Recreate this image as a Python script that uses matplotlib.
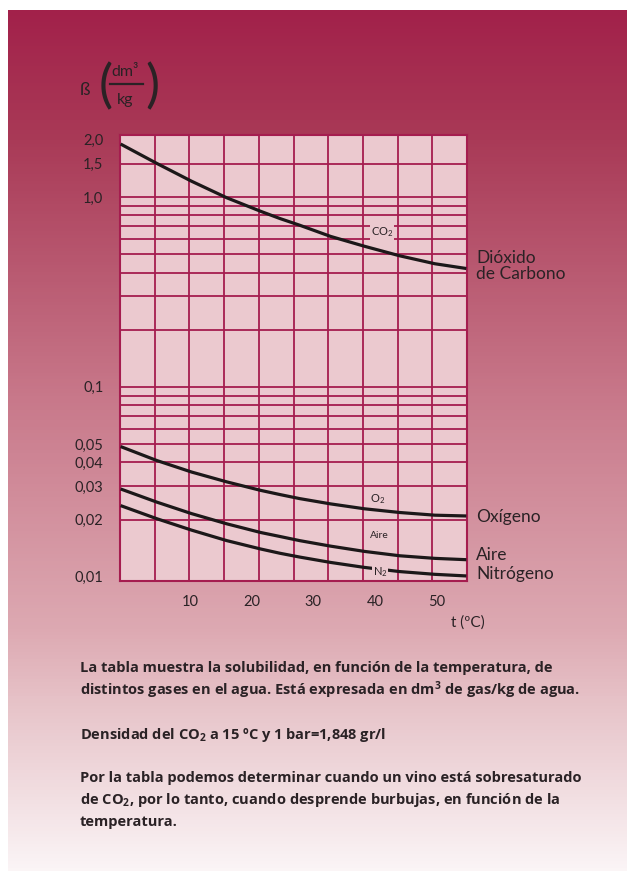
import numpy as np
import matplotlib
matplotlib.use('Agg')
from matplotlib import pyplot as plt
from matplotlib.colors import LinearSegmentedColormap
from matplotlib.lines import Line2D
from matplotlib import transforms

plt.rcParams['font.family'] = ['Lato', 'DejaVu Sans']
plt.rcParams['mathtext.default'] = 'regular'

# temperatura (ºC) y solubilidad (dm3/kg)
temps = [-1.2, 4.7, 10.3, 16.0, 21.5, 24.6, 27.8, 32.8, 38.3, 44.0, 49.7, 54.8]
co2 = [1.90, 1.50, 1.21, 0.99, 0.84, 0.77, 0.71, 0.62, 0.55, 0.49, 0.445, 0.42]
o2 = [0.0485, 0.0409, 0.0356, 0.0316, 0.0285, 0.0271, 0.0258, 0.0242, 0.0228, 0.0218, 0.0211, 0.0209]
aire = [0.0290, 0.0247, 0.0215, 0.0190, 0.0171, 0.0163, 0.0155, 0.0145, 0.0136, 0.0129, 0.0125, 0.0123]
n2 = [0.0237, 0.0202, 0.0176, 0.0155, 0.0140, 0.0133, 0.0127, 0.0119, 0.0112, 0.01065, 0.0103, 0.0101]

yticks = [2.0, 1.5, 1.0, 0.1, 0.05, 0.04, 0.03, 0.02, 0.01]
ytick_labels = ['2,0', '1,5', '1,0', '0,1', '0,05', '0,04', '0,03', '0,02', '0,01']
xticks = [10, 20, 30, 40, 50]
hgrid = [1.5, 1.0, 0.9, 0.8, 0.7, 0.6, 0.5, 0.4, 0.3, 0.2,
         0.1, 0.09, 0.08, 0.07, 0.06, 0.05, 0.04, 0.03, 0.02]

GRID = '#a51d4f'
FACE = '#ebc9cf'
INK = '#2a2225'
W, H = 627, 871

fig = plt.figure(figsize=(W / 100, H / 100), dpi=100)
fig.patch.set_facecolor('white')

def fx(x):
    return x / W

def fy(y):
    return 1 - y / H

# fondo degradado
bg = fig.add_axes([fx(8), 0, 1 - fx(8), fy(10)])
cmap = LinearSegmentedColormap.from_list('fondo', [
    (0.0, '#a2214a'), (0.15, '#a93a57'), (0.45, '#c8788a'),
    (0.72, '#dda9b2'), (0.80, '#e6c1c7'), (1.0, '#fbf5f6')])
bg.imshow(np.linspace(0, 1, 256).reshape(-1, 1), cmap=cmap, aspect='auto',
          extent=[0, 1, 0, 1])
bg.axis('off')

# grafico
ax = fig.add_axes([fx(120), fy(581), fx(467) - fx(120), fy(135) - fy(581)])
ax.set_facecolor(FACE)
ax.set_yscale('log')
xmin, xmax = -1.3, 54.9
ax.set_xlim(xmin, xmax)
ax.set_ylim(0.0095, 2.12)

for v in hgrid:
    ax.axhline(v, color=GRID, lw=1.3, zorder=1)
for v in np.linspace(xmin, xmax, 11)[1:-1]:
    ax.axvline(v, color=GRID, lw=1.3, zorder=1)
for s in ax.spines.values():
    s.set_color(GRID)
    s.set_linewidth(1.5)

for serie in [co2, o2, aire, n2]:
    ax.plot(temps, serie, color='#1c1819', lw=2.3, zorder=3,
            solid_capstyle='butt', solid_joinstyle='round')

ax.yaxis.set_major_locator(matplotlib.ticker.FixedLocator(yticks))
ax.yaxis.set_minor_locator(matplotlib.ticker.NullLocator())
ax.set_yticklabels(ytick_labels)
ax.set_xticks(xticks)
ax.set_xticklabels([str(t) for t in xticks])
ax.tick_params(axis='both', length=0, labelsize=10.5, labelcolor=INK)
ax.tick_params(axis='y', pad=12)
ax.tick_params(axis='x', pad=10)

# etiquetas dentro del grafico
box = dict(facecolor=FACE, edgecolor='none', pad=0.5)
ax.text(39.3, 0.65, 'CO$_2$', fontsize=8, color=INK, va='center', zorder=4, bbox=box)
ax.text(39.2, 0.0257, 'O$_2$', fontsize=8, color=INK, va='center', zorder=4)
ax.text(39.2, 0.01644, 'Aire', fontsize=7.5, color=INK, va='center', zorder=4)
ax.text(39.6, 0.01062, 'N$_2$', fontsize=8, color=INK, va='center', zorder=4, bbox=box)

# nombres a la derecha
tr = transforms.blended_transform_factory(ax.transAxes, ax.transData)
ax.text(1.026, 0.433, 'Dióxido\nde Carbono', transform=tr, fontsize=12.5,
        color=INK, va='center', linespacing=1.0)
ax.text(1.026, 0.0207, 'Oxígeno', transform=tr, fontsize=12.5, color=INK, va='center')
ax.text(1.026, 0.01306, 'Aire', transform=tr, fontsize=12.5, color=INK, va='center')
ax.text(1.026, 0.01038, 'Nitrógeno', transform=tr, fontsize=12.5, color=INK, va='center')

fig.text(fx(468), fy(623), 't (ºC)', fontsize=11, color=INK, ha='center', va='center')

# titulo del eje y
fig.text(fx(85), fy(90), 'ß', fontsize=13, color=INK, ha='center', va='center')
fig.text(fx(106), fy(87), '(', fontsize=38, color=INK, ha='center', va='center')
fig.text(fx(152), fy(87), ')', fontsize=38, color=INK, ha='center', va='center')
fig.text(fx(125), fy(72), 'dm³', fontsize=11.5, color=INK, ha='center', va='center')
fig.text(fx(125), fy(100), 'kg', fontsize=11.5, color=INK, ha='center', va='center')
fig.add_artist(Line2D([fx(110), fx(143)], [fy(84), fy(84)], color=INK, lw=1.6))

# texto inferior
lineas = [
    (668, 'La tabla muestra la solubilidad, en función de la temperatura, de'),
    (690, 'distintos gases en el agua. Está expresada en dm$^3$ de gas/kg de agua.'),
    (735, 'Densidad del CO$_2$ a 15 ºC y 1 bar=1,848 gr/l'),
    (778, 'Por la tabla podemos determinar cuando un vino está sobresaturado'),
    (800, 'de CO$_2$, por lo tanto, cuando desprende burbujas, en función de la'),
    (822, 'temperatura.'),
]
for y, txt in lineas:
    fig.text(fx(80), fy(y), txt, fontsize=10.5, fontweight='bold', color=INK,
             va='center', family=['Open Sans', 'DejaVu Sans'])

fig.savefig('out.png', dpi=100)
